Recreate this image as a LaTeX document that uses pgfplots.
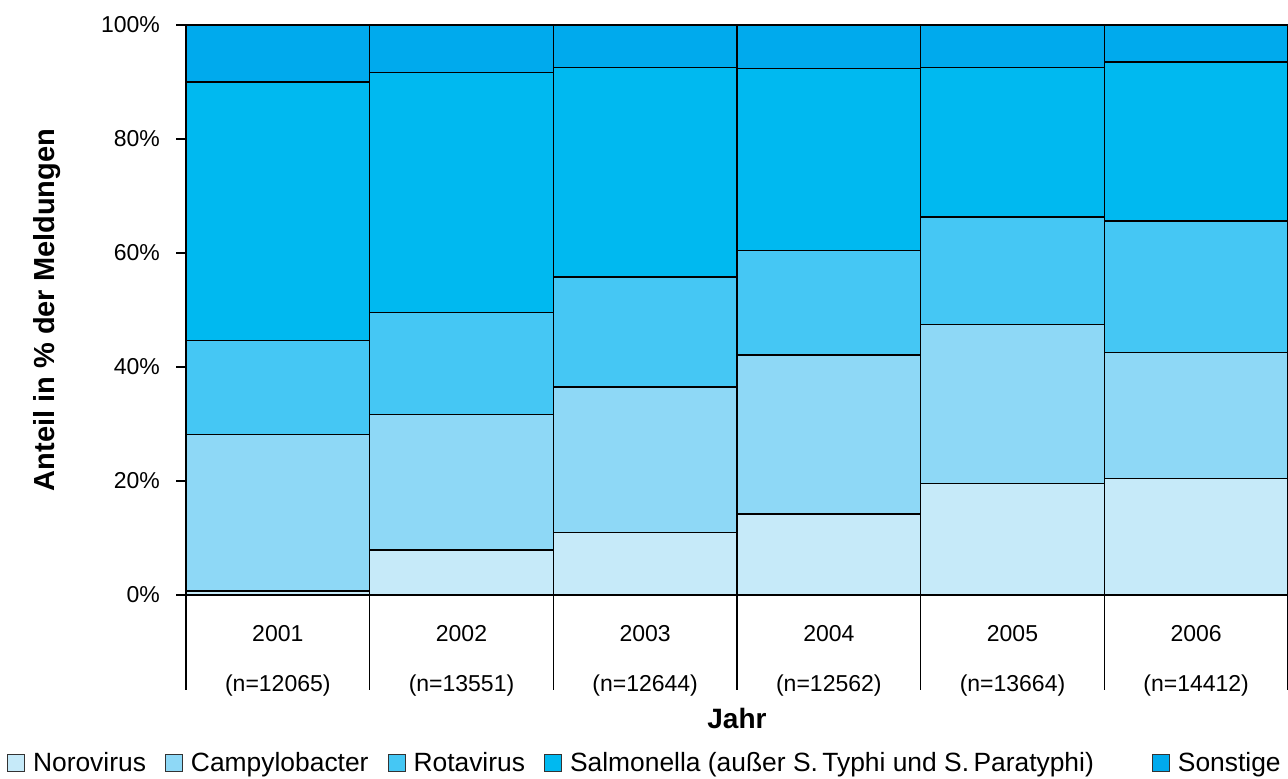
\documentclass[border=0pt]{standalone}
\usepackage{pgfplots}
\pgfplotsset{compat=1.18}
\usepackage{fontspec}
\setmainfont{Liberation Sans}

\definecolor{noro}{HTML}{C6EAF9}
\definecolor{campy}{HTML}{8ED8F6}
\definecolor{rota}{HTML}{45C7F4}
\definecolor{salm}{HTML}{00B9F0}
\definecolor{sonst}{HTML}{00AAED}

% Anteile in % der Meldungen je Jahr (2001-2006)
\pgfplotstableread{
x  noro  campy  rota  salm  sonst
0  0.7   27.5   16.5  45.3  10.0
1  7.9   23.7   18.0  42.0   8.4
2  10.9  25.6   19.3  36.8   7.4
3  14.2  27.9   18.3  31.9   7.7
4  19.5  28.0   18.8  26.3   7.4
5  20.4  22.2   23.0  27.9   6.5
}\anteile

\begin{document}
\begin{tikzpicture}
\begin{axis}[
  name=ax,
  scale only axis,
  width=551pt, height=285pt,
  ybar stacked,
  bar width=1,
  xmin=-0.5, xmax=5.5,
  ymin=0, ymax=100,
  axis lines*=left,
  axis line style={black, line width=0.7pt},
  tick align=outside,
  major tick length=5pt,
  ytick={0,20,40,60,80,100},
  yticklabels={0\%,20\%,40\%,60\%,80\%,100\%},
  ytick style={black, line width=0.6pt},
  yticklabel style={font=\fontsize{11.5}{13}\selectfont, xshift=-4.5pt},
  xtick={0,...,5},
  xticklabels={{2001\\[12pt](n=12065)},{2002\\[12pt](n=13551)},{2003\\[12pt](n=12644)},
               {2004\\[12pt](n=12562)},{2005\\[12pt](n=13664)},{2006\\[12pt](n=14412)}},
  xticklabel style={align=center, font=\fontsize{11.5}{13}\selectfont, yshift=-6.5pt},
  xtick style={draw=none},
  extra x ticks={-0.5,0.5,1.5,2.5,3.5,4.5,5.5},
  extra x tick labels={},
  extra x tick style={major tick length=47.5pt, xtick style={draw=black, line width=0.6pt}},
  xlabel={\bfseries Jahr},
  xlabel style={font=\fontsize{14}{16}\selectfont, at={(axis description cs:0.5,-0.2158)}, anchor=center},
  ylabel={\bfseries Anteil in \% der Meldungen},
  ylabel style={font=\fontsize{14.5}{16}\selectfont, at={(axis description cs:-0.1261,0.5)}, anchor=center},
  legend columns=5,
  legend image code/.code={\draw[#1, draw=black!80, line width=0.5pt] (0pt,-4.25pt) rectangle (8.5pt,4.25pt);},
  legend style={
    at={(axis description cs:-0.1624,-0.2947)}, anchor=west,
    draw=none, fill=none, inner sep=0pt, outer sep=0pt,
    font=\fontsize{13.2}{15}\selectfont,
    nodes={inner sep=0pt},
    /tikz/every even column/.append style={column sep=9.5pt},
    /tikz/every odd column/.append style={column sep=4pt},
  },
  every axis plot/.append style={draw=black, line width=0.6pt},
]
\addplot[fill=noro]  table[x=x, y=noro]  {\anteile};
\addplot[fill=campy] table[x=x, y=campy] {\anteile};
\addplot[fill=rota]  table[x=x, y=rota]  {\anteile};
\addplot[fill=salm]  table[x=x, y=salm]  {\anteile};
\addplot[fill=sonst] table[x=x, y=sonst] {\anteile};
\legend{Norovirus, Campylobacter, Rotavirus, {Salmonella (außer S.\,Typhi und S.\,Paratyphi)\hspace*{19.5pt}}, Sonstige}
\coordinate (bl) at (axis description cs:0,0);
\coordinate (tr) at (axis description cs:1,1);
\end{axis}
\pgfresetboundingbox
\path ([xshift=-93pt,yshift=-92pt]bl) rectangle ([yshift=12.5pt]tr);
\end{tikzpicture}
\end{document}
